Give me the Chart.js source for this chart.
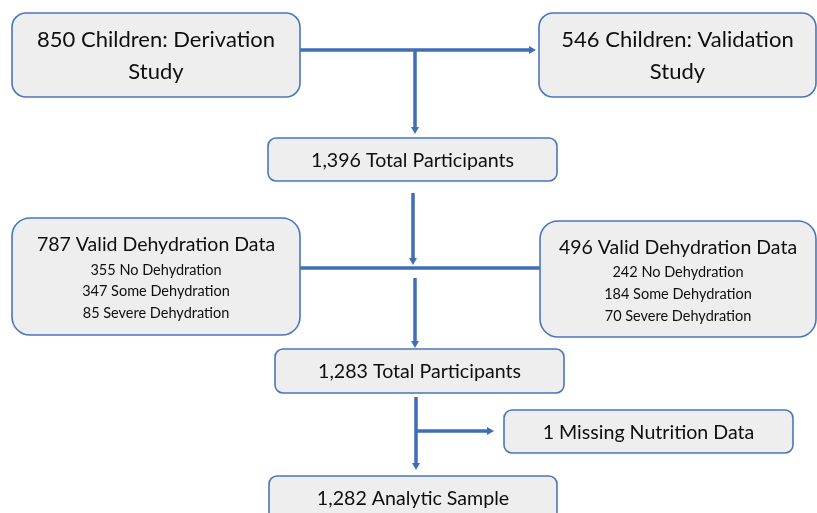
<!DOCTYPE html>
<html>
<head>
<meta charset="utf-8">
<script src="https://cdn.jsdelivr.net/npm/chart.js@4.4.1/dist/chart.umd.min.js"></script>
<style>
  html, body { margin: 0; padding: 0; background: #fff; }
  canvas { display: block; }
</style>
</head>
<body>
<canvas id="flow" width="817" height="513"></canvas>
<script>
"use strict"

// study numbers
const studies = ['Derivation', 'Validation'];
const enrolled = [850, 546];
const validData = [787, 496];
const noDehydration = [355, 242];
const someDehydration = [347, 184];
const severeDehydration = [85, 70];
const totals = [1396, 1283];
const missingNutrition = 1;
const analyticSample = 1282;

const fmt = n => n.toLocaleString('en-US');

// box text, built from the numbers above
const nodeText = [
    { title: [`${enrolled[0]} Children: ${studies[0]}`, 'Study'] },
    { title: [`${enrolled[1]} Children: ${studies[1]}`, 'Study'] },
    { title: [`${fmt(totals[0])} Total Participants`] },
    { title: [`${validData[0]} Valid Dehydration Data`],
      sub: [`${noDehydration[0]} No Dehydration`, `${someDehydration[0]} Some Dehydration`, `${severeDehydration[0]} Severe Dehydration`] },
    { title: [`${validData[1]} Valid Dehydration Data`],
      sub: [`${noDehydration[1]} No Dehydration`, `${someDehydration[1]} Some Dehydration`, `${severeDehydration[1]} Severe Dehydration`] },
    { title: [`${fmt(totals[1])} Total Participants`] },
    { title: [`${missingNutrition} Missing Nutrition Data`] },
    { title: [`${fmt(analyticSample)} Analytic Sample`] },
];

// layout of the boxes in chart units (centre x, centre y, width, height, corner)
const layout = [
    { x: 156,   y: 55,    w: 288, h: 84,  r: 14, font: 22 },
    { x: 677.5, y: 55,    w: 277, h: 84,  r: 14, font: 22 },
    { x: 412.5, y: 159.5, w: 289, h: 43,  r: 8,  font: 19.6 },
    { x: 156,   y: 276.5, w: 288, h: 117, r: 18, font: 19.5 },
    { x: 678,   y: 279,   w: 276, h: 116, r: 18, font: 19.5 },
    { x: 419.5, y: 371,   w: 289, h: 44,  r: 8,  font: 19.6 },
    { x: 648.5, y: 431.5, w: 289, h: 43,  r: 8,  font: 19.6 },
    { x: 413,   y: 498,   w: 288, h: 44,  r: 8,  font: 19.6 },
];

// connectors: [x1, y1, x2, y2, arrow]
const links = [
    [300, 50, 536, 50, true],
    [415, 50, 415, 134, true],
    [413, 193, 413, 265, true],
    [300, 268, 540, 268, false],
    [415, 278, 415, 348, true],
    [416, 397, 416, 470, true],
    [416, 431, 494, 431, true],
];

const FONT = 'Lato, "Open Sans", sans-serif';
const LINE = '#3f6db8';

function roundRect(ctx, x, y, w, h, r) {
    ctx.beginPath();
    ctx.moveTo(x + r, y);
    ctx.lineTo(x + w - r, y);
    ctx.arcTo(x + w, y, x + w, y + r, r);
    ctx.lineTo(x + w, y + h - r);
    ctx.arcTo(x + w, y + h, x + w - r, y + h, r);
    ctx.lineTo(x + r, y + h);
    ctx.arcTo(x, y + h, x, y + h - r, r);
    ctx.lineTo(x, y + r);
    ctx.arcTo(x, y, x + r, y, r);
    ctx.closePath();
}

const flowPlugin = {
    id: 'flow',
    afterDatasetsDraw(chart) {
        const ctx = chart.ctx;
        const sx = chart.scales.x, sy = chart.scales.y;
        const px = v => sx.getPixelForValue(v);
        const py = v => sy.getPixelForValue(v);

        ctx.save();

        // connectors
        ctx.strokeStyle = LINE;
        ctx.fillStyle = LINE;
        ctx.lineWidth = 3.5;
        links.forEach(([x1, y1, x2, y2, arrow]) => {
            const a = px(x1), b = py(y1), c = px(x2), d = py(y2);
            const ang = Math.atan2(d - b, c - a);
            const len = arrow ? 6 : 0;
            ctx.beginPath();
            ctx.moveTo(a, b);
            ctx.lineTo(c - Math.cos(ang) * len, d - Math.sin(ang) * len);
            ctx.stroke();
            if (arrow) {
                ctx.beginPath();
                ctx.moveTo(c, d);
                ctx.lineTo(c - Math.cos(ang) * 7 - Math.sin(ang) * 4, d - Math.sin(ang) * 7 + Math.cos(ang) * 4);
                ctx.lineTo(c - Math.cos(ang) * 7 + Math.sin(ang) * 4, d - Math.sin(ang) * 7 - Math.cos(ang) * 4);
                ctx.closePath();
                ctx.fill();
            }
        });

        // boxes
        const points = chart.getDatasetMeta(0).data;
        points.forEach((pt, i) => {
            const box = layout[i];
            const w = px(box.x + box.w / 2) - px(box.x - box.w / 2);
            const h = py(box.y + box.h / 2) - py(box.y - box.h / 2);
            const left = pt.x - w / 2, top = pt.y - h / 2;

            roundRect(ctx, left, top, w, h, box.r);
            ctx.fillStyle = '#eeeeee';
            ctx.fill();
            ctx.lineWidth = 1.6;
            ctx.strokeStyle = '#4a76bd';
            ctx.stroke();

            const t = nodeText[i];
            ctx.fillStyle = '#0e0e0e';
            ctx.textAlign = 'center';
            ctx.textBaseline = 'middle';
            ctx.font = `${box.font}px ${FONT}`;
            if (t.sub) {
                ctx.fillText(t.title[0], pt.x, pt.y - 31.5);
                ctx.font = `14.5px ${FONT}`;
                t.sub.forEach((s, k) => ctx.fillText(s, pt.x, pt.y - 6.5 + k * 21.7));
            } else if (t.title.length === 2) {
                ctx.fillText(t.title[0], pt.x, pt.y - 15.5);
                ctx.fillText(t.title[1], pt.x, pt.y + 17);
            } else {
                ctx.fillText(t.title[0], pt.x, pt.y + 1);
            }
        });

        ctx.restore();
    }
};

new Chart(document.getElementById('flow'), {
    type: 'scatter',
    data: {
        datasets: [{
            data: layout.map(b => ({ x: b.x, y: b.y })),
            pointRadius: 0,
            pointHoverRadius: 0,
        }]
    },
    options: {
        responsive: false,
        animation: false,
        events: [],
        layout: { padding: 0 },
        plugins: { legend: { display: false }, tooltip: { enabled: false } },
        scales: {
            x: { type: 'linear', min: 0, max: 817, display: false },
            y: { type: 'linear', min: 0, max: 513, reverse: true, display: false },
        },
    },
    plugins: [flowPlugin],
});
</script>
</body>
</html>
